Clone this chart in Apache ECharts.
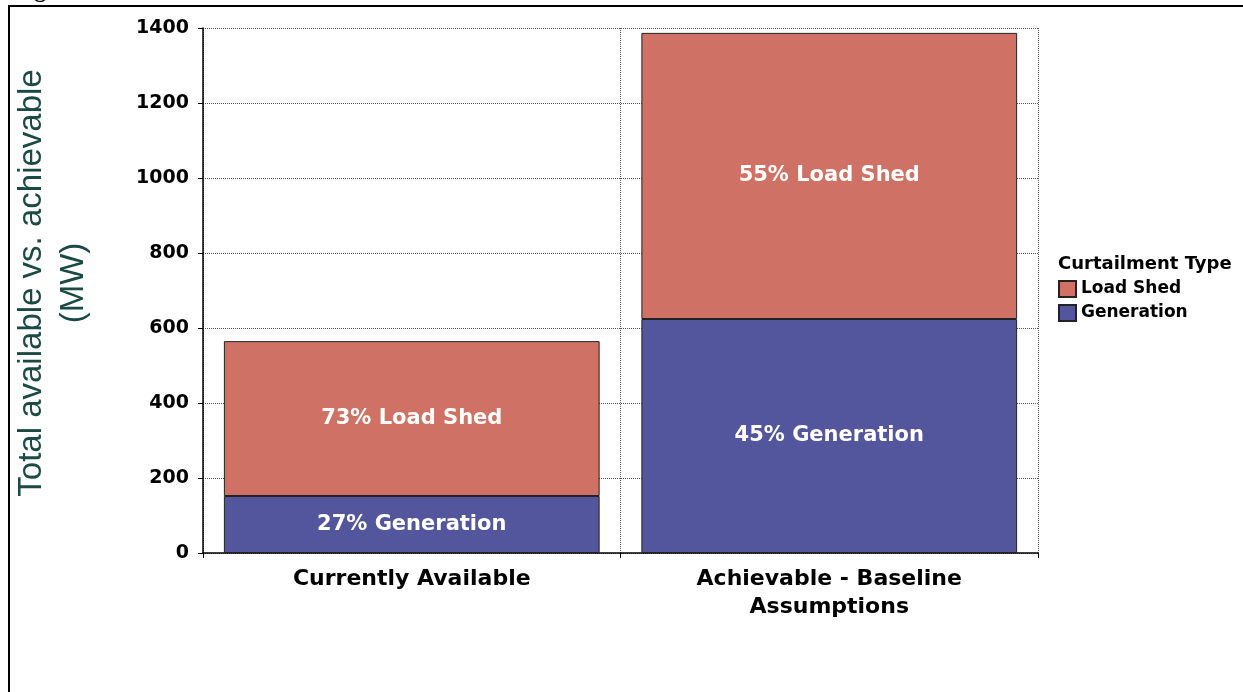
<!DOCTYPE html>
<html>
<head>
<meta charset="utf-8">
<script src="https://cdn.jsdelivr.net/npm/echarts@6/dist/echarts.min.js"></script>
<style>
  html, body { margin: 0; padding: 0; background: #fff; }
  #main { width: 1243px; height: 692px; }
</style>
</head>
<body>
<div id="main"></div>
<script>
// chart data
var categories = ["Currently Available", "Achievable - Baseline\nAssumptions"];
var generation = [152, 624];
var loadShed = [413, 763];
var yTicks = [0, 200, 400, 600, 800, 1000, 1200, 1400];

var totals = generation.map(function (g, i) { return g + loadShed[i]; });
function pct(v, i) { return Math.round(v / totals[i] * 100); }

var boldFont = "'DejaVu Sans', Verdana, sans-serif";
var chart = echarts.init(document.getElementById("main"));

var labelStyle = {
  show: true,
  position: "inside",
  color: "#fff",
  fontFamily: boldFont,
  fontWeight: "bold",
  fontSize: 21
};

var option = {
  animation: false,
  backgroundColor: "#fff",
  grid: { left: 203, right: 205, top: 28, bottom: 139 },
  legend: {
    orient: "vertical",
    left: 1053,
    top: 275,
    itemWidth: 17,
    itemHeight: 16,
    itemGap: 6,
    icon: "rect",
    data: ["Load Shed", "Generation"],
    textStyle: {
      color: "#000",
      fontFamily: boldFont,
      fontWeight: "bold",
      fontSize: 17
    }
  },
  xAxis: {
    type: "category",
    data: categories,
    axisLine: { lineStyle: { color: "#000", width: 1.5 } },
    axisTick: { show: true, length: 5, lineStyle: { color: "#000" } },
    splitLine: { show: true, lineStyle: { color: "#555", type: [1, 1], width: 1 } },
    axisLabel: {
      color: "#000",
      fontFamily: boldFont,
      fontWeight: "bold",
      fontSize: 22,
      lineHeight: 28,
      margin: 12
    }
  },
  yAxis: {
    type: "value",
    min: yTicks[0],
    max: yTicks[yTicks.length - 1],
    interval: 200,
    axisLine: { show: true, lineStyle: { color: "#000", width: 1.5 } },
    axisTick: { show: true, length: 5, lineStyle: { color: "#000" } },
    splitLine: { show: true, lineStyle: { color: "#555", type: [1, 1], width: 1 } },
    axisLabel: {
      color: "#000",
      fontFamily: boldFont,
      fontWeight: "bold",
      fontSize: 19,
      margin: 14,
      formatter: function (v) { return String(v); }
    }
  },
  series: [
    {
      name: "Generation",
      type: "bar",
      stack: "total",
      barCategoryGap: "10%",
      data: generation,
      itemStyle: { color: "#53569C", borderColor: "#222", borderWidth: 1 },
      label: Object.assign({}, labelStyle, {
        formatter: function (p) { return pct(p.value, p.dataIndex) + "% Generation"; }
      })
    },
    {
      name: "Load Shed",
      type: "bar",
      stack: "total",
      barCategoryGap: "10%",
      data: loadShed,
      itemStyle: { color: "#CF7164", borderColor: "#222", borderWidth: 1 },
      label: Object.assign({}, labelStyle, {
        formatter: function (p) { return pct(p.value, p.dataIndex) + "% Load Shed"; }
      })
    }
  ],
  graphic: [
    {
      type: "rect",
      shape: { x: 9, y: 6, width: 1400, height: 900 },
      style: { fill: "none", stroke: "#000", lineWidth: 2 },
      silent: true
    },
    {
      type: "text",
      x: 13,
      y: 3,
      style: {
        text: "Figure",
        font: "bold 24px 'Liberation Serif', 'Times New Roman', serif",
        fill: "#000",
        verticalAlign: "bottom"
      }
    },
    {
      type: "text",
      x: 53,
      y: 283,
      rotation: Math.PI / 2,
      style: {
        text: "Total available vs. achievable\n(MW)",
        font: "33px Arial, 'Liberation Sans', sans-serif",
        fill: "#1B4A44",
        align: "center",
        verticalAlign: "middle",
        lineHeight: 42
      }
    },
    {
      type: "text",
      left: 1058,
      top: 255,
      style: {
        text: "Curtailment Type",
        font: "bold 18px 'DejaVu Sans', Verdana, sans-serif",
        fill: "#000"
      }
    }
  ]
};

chart.setOption(option);
</script>
</body>
</html>
